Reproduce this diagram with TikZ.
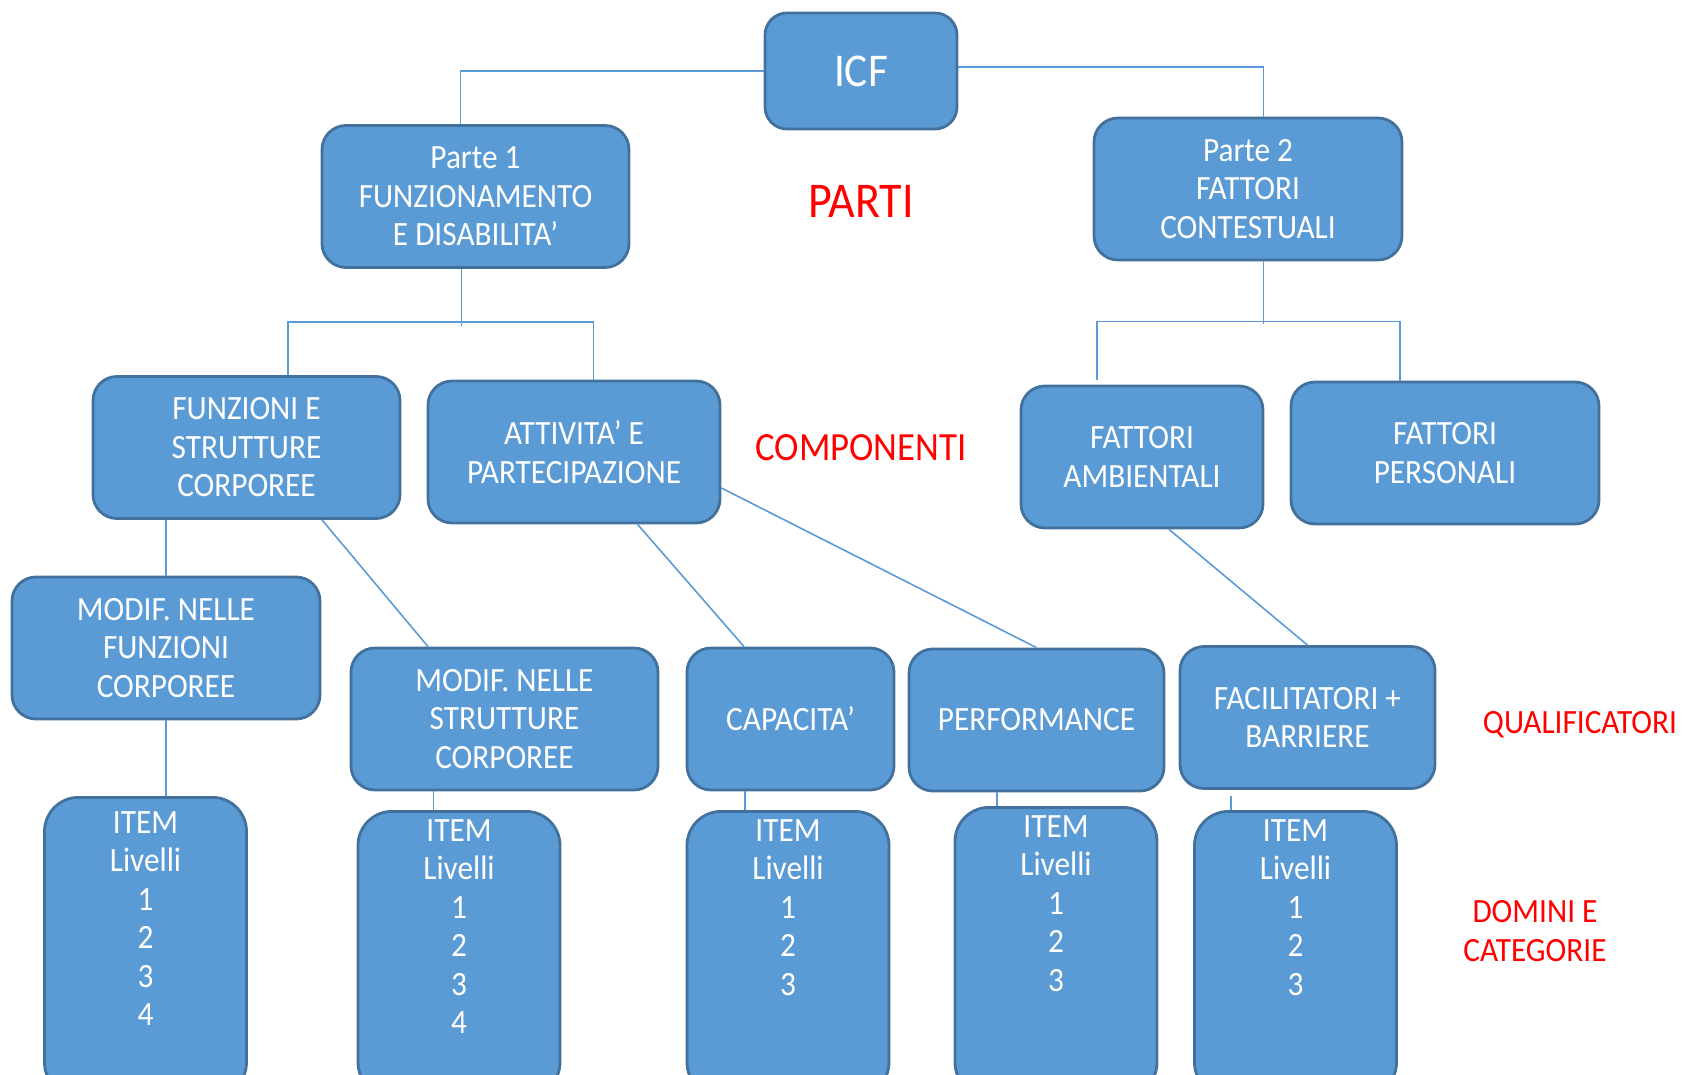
\documentclass[tikz,border=0pt]{standalone}
\usepackage{fontspec}
\setmainfont{Carlito}[FakeStretch=0.92]
\usepackage{tikz}
\definecolor{icfblue}{RGB}{91, 155, 213}
\definecolor{icfedge}{RGB}{65, 113, 156}
\definecolor{icfred}{RGB}{255, 0, 0}

\begin{document}
\begin{tikzpicture}[x=0.5pt, y=-0.5pt,
        box/.style={draw=icfedge, fill=icfblue, line width=1.4pt, rounded corners=12pt,
            minimum height=71pt, text=white, align=center, font=\fontsize{17}{19.25}\selectfont},
        itembox/.style={draw=icfedge, fill=icfblue, line width=1.4pt, rounded corners=17pt,
            minimum width=101pt, anchor=north},
        itemtext/.style={text=white, align=center, inner sep=0pt, anchor=north,
            font=\fontsize{17}{19.25}\selectfont},
        link/.style={draw=icfblue, line width=0.8pt},
        tag/.style={text=icfred, align=center, font=\fontsize{17}{19.25}\selectfont}]
        \useasboundingbox (0,0) rectangle (1683,1075);
        \clip (0,0) rectangle (1683,1075);

        % Parti
        \node[box, minimum width=96pt, minimum height=58pt, rounded corners=11pt,
            font=\fontsize{23.5}{28}\selectfont] (icf) at (861,71) {ICF};
        \node[box, minimum width=153.5pt] (parte1) at (475.5,196.5) {Parte 1\\FUNZIONAMENTO\\E DISABILITA’};
        \node[box, minimum width=154pt] (parte2) at (1248,189) {Parte 2\\FATTORI\\CONTESTUALI};

        % Componenti
        \node[box, minimum width=153.5pt] (funz) at (246.5,447.5) {FUNZIONI E\\STRUTTURE\\CORPOREE};
        \node[box, minimum width=146pt] (attiv) at (574,452) {ATTIVITA’ E\\PARTECIPAZIONE};
        \node[box, minimum width=121pt] (ambient) at (1142,457) {FATTORI\\AMBIENTALI};
        \node[box, minimum width=154pt] (person) at (1445,453) {FATTORI\\PERSONALI};

        % Qualificatori
        \node[box, minimum width=154pt] (modfunz) at (166,648) {MODIF. NELLE\\FUNZIONI\\CORPOREE};
        \node[box, minimum width=153.5pt] (modstrut) at (504.5,719) {MODIF. NELLE\\STRUTTURE\\CORPOREE};
        \node[box, minimum width=103.5pt] (capac) at (790.5,719) {CAPACITA’};
        \node[box, minimum width=127.5pt] (perform) at (1036.5,720) {PERFORMANCE};
        \node[box, minimum width=127.5pt] (facil) at (1307.5,717.5) {FACILITATORI +\\BARRIERE};

        % Domini e categorie
        \node[itembox, minimum height=149.5pt] (item1) at (145.5,796) {};
        \node[itembox, minimum height=142.5pt] (item2) at (459,810) {};
        \node[itembox, minimum height=142.5pt] (item3) at (788,810) {};
        \node[itembox, minimum height=144.5pt] (item4) at (1056,806) {};
        \node[itembox, minimum height=142.5pt] (item5) at (1295.5,810) {};
        \node[itemtext] (item1txt) at ([yshift=-7.6pt]item1.north) {ITEM\\Livelli\\1\\2\\3\\4};
        \node[itemtext] (item2txt) at ([yshift=-4.6pt]item2.north) {ITEM\\Livelli\\1\\2\\3\\4};
        \node[itemtext] (item3txt) at ([yshift=-4.6pt]item3.north) {ITEM\\Livelli\\1\\2\\3};
        \node[itemtext] (item4txt) at ([yshift=-4.6pt]item4.north) {ITEM\\Livelli\\1\\2\\3};
        \node[itemtext] (item5txt) at ([yshift=-4.6pt]item5.north) {ITEM\\Livelli\\1\\2\\3};

        % Etichette
        \node[tag, font=\fontsize{25}{30}\selectfont] (parti) at (861,201) {PARTI};
        \node[tag, font=\fontsize{20}{24}\selectfont] (compon) at (861,448) {COMPONENTI};
        \node[tag] (qualif) at (1580,725) {QUALIFICATORI};
        \node[tag] (domini) at (1535,931) {DOMINI E\\CATEGORIE};

        % Collegamenti
        \draw[link] (icf.west) -| ([xshift=-7.5pt]parte1.north);
        \draw[link] ([yshift=2pt]icf.east) -| ([xshift=7.75pt]parte2.north);
        \draw[link] ([xshift=-7pt]parte1.south) -- ++(0,57);
        \draw[link] ([xshift=20.6pt]funz.north) -- ++(0,-53) -| ([xshift=9.8pt]attiv.north);
        \draw[link] ([xshift=7.75pt]parte2.south) -- ++(0,63);
        \draw[link] ([xshift=-22.5pt,yshift=2.5pt]ambient.north) -- ++(0,-58) -| ([xshift=-22.65pt]person.north);

        \draw[link] (modfunz.north) -- (modfunz.north |- funz.south);
        \draw[link] ([xshift=37.75pt]funz.south) -- ([xshift=-38.25pt]modstrut.north);
        \draw[link] ([xshift=31.8pt]attiv.south) -- ([xshift=-23.25pt]capac.north);
        \draw[link] ([yshift=-18pt]attiv.east) -- (perform.north);
        \draw[link] ([xshift=13.5pt]ambient.south) -- (facil.north);

        \draw[link] (modfunz.south) -- (modfunz.south |- item1.north);
        \draw[link] ([xshift=-35.5pt]modstrut.south) -- ([xshift=-35.5pt]modstrut.south |- item2.north);
        \draw[link] ([xshift=-22.75pt]capac.south) -- ([xshift=-22.75pt]capac.south |- item3.north);
        \draw[link] ([xshift=-19.75pt]perform.south) -- ([xshift=-19.75pt]perform.south |- item4.north);
        \draw[link] ([xshift=-38.25pt,yshift=-3pt]facil.south) -- ([xshift=-38.25pt]facil.south |- item5.north);
    \end{tikzpicture}
\end{document}
